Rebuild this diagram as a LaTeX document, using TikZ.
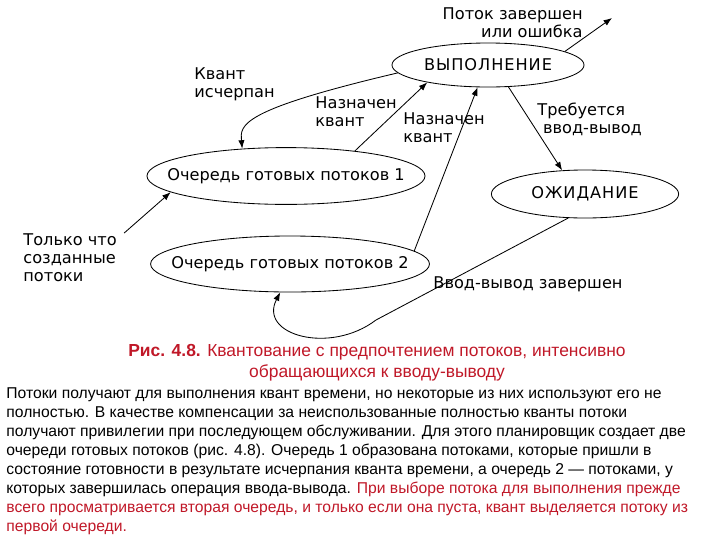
\documentclass[tikz,border=0pt]{standalone}
\usepackage{fontspec}
\setmainfont{Liberation Sans}
\newfontfamily\diagfont{DejaVu Sans}
\usetikzlibrary{positioning}
\usetikzlibrary{shapes.geometric}
\usetikzlibrary{arrows.meta}

\definecolor{capred}{RGB}{192,24,40}

\tikzset{
  state/.style={draw, ellipse, inner sep=0pt, font=\diagfont\fontsize{11.5}{12.8}\selectfont},
  lbl/.style={inner sep=0pt, align=left, font=\diagfont\fontsize{11.5}{12.8}\selectfont},
}

\begin{document}
\begin{tikzpicture}[x=0.025cm, y=-0.025cm, line width=0.6pt, >={Latex[length=6pt,width=4.5pt]}]
\useasboundingbox (0,0) rectangle (720,540);

    % states
    \node[state, minimum width=4.8cm, minimum height=1.1cm] (run) at (488,65) {\makebox[0pt]{\addfontfeature{LetterSpace=6}ВЫПОЛНЕНИЕ}};
    \node[state, minimum width=6.95cm, minimum height=1.42cm] (q1) at (286,176) {\makebox[0pt]{Очередь готовых потоков 1}};
    \node[state, minimum width=6.97cm, minimum height=1.4cm] (q2) at (290,264) {\makebox[0pt]{Очередь готовых потоков 2}};
    \node[state, minimum width=4.68cm, minimum height=1.2cm] (wait) at (585,194) {\makebox[0pt]{\addfontfeature{LetterSpace=6}ОЖИДАНИЕ}};

    \coordinate (done) at (612,18);

    % labels
    \node[lbl, align=right, anchor=north east] (donetxt) at (583,7) {Поток завершен\\или ошибка};
    \node[lbl, anchor=north west] (quanttxt) at (194,67) {Квант\\исчерпан};
    \node[lbl, anchor=north west] (givetxt) at (315,96) {Назначен\\квант};
    \node[lbl, anchor=north west] (givetxtb) at (403,112) {Назначен\\квант};
    \node[lbl, anchor=north west] (iotxt) at (537,103) {Требуется\\\hspace*{4pt}ввод-вывод};
    \node[lbl, anchor=north west] (iodonetxt) at (433,276) {Ввод-вывод завершен};
    \node[lbl, anchor=north west] (newtxt) at (23,233) {Только что\\созданные\\потоки};

    \draw[->] (run.10) -- (done);
    \draw[->] (run.185) .. controls (240,110) and (240,125) .. (q1.148);
    \draw[->] (q1.20) -- (run.196);
    \draw[->] (q2.6) -- (run.245);
    \draw[->] (run.313) -- (wait.134);
    \draw[->] (wait.235) -- (376,320) .. controls (330,355) and (258,335) .. (q2.251);
    \draw[->] ([xshift=5pt]newtxt.north east) -- (q1.188);

    % caption and text
    \node[align=center, text=capred, font=\fontsize{12.4}{15}\selectfont] (caption) at (377,363)
      {\textbf{Рис. 4.8.} Квантование с предпочтением потоков, интенсивно\\обращающихся к вводу-выводу};
    \node[anchor=north west, align=left, inner sep=0pt, font=\fontsize{11.15}{13.55}\selectfont] (body) at (6,387)
      {Потоки получают для выполнения квант времени, но некоторые из них используют его не\\
       полностью. В качестве компенсации за неиспользованные полностью кванты потоки\\
       получают привилегии при последующем обслуживании. Для этого планировщик создает две\\
       очереди готовых потоков (рис. 4.8). Очередь 1 образована потоками, которые пришли в\\
       состояние готовности в результате исчерпания кванта времени, а очередь 2 — потоками, у\\
       которых завершилась операция ввода-вывода. \textcolor{capred}{При выборе потока для выполнения прежде}\\
       \textcolor{capred}{всего просматривается вторая очередь, и только если она пуста, квант выделяется потоку из}\\
       \textcolor{capred}{первой очереди.}};

\end{tikzpicture}
\end{document}
